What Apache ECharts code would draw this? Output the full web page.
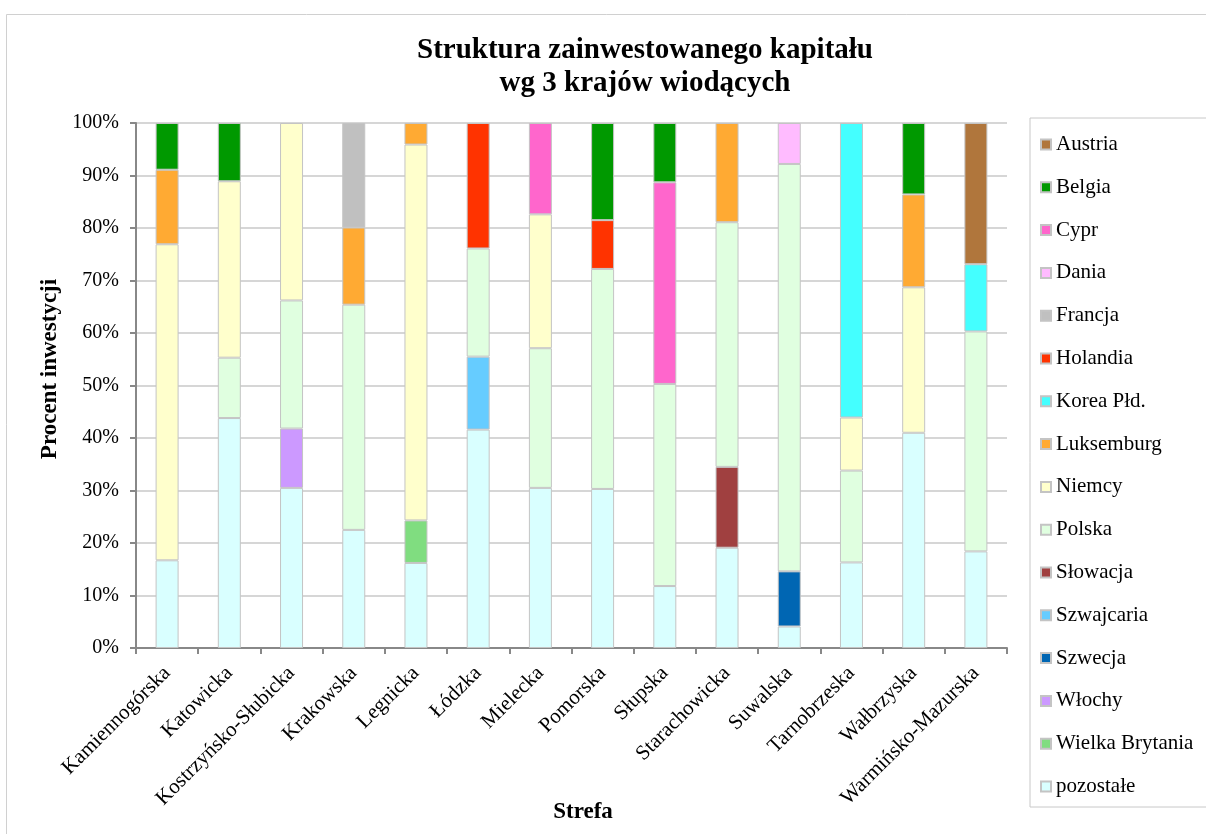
<!DOCTYPE html>
<html>
<head>
<meta charset="utf-8">
<script src="https://cdn.jsdelivr.net/npm/echarts@6/dist/echarts.min.js"></script>
<style>
  html, body { margin: 0; padding: 0; background: #fff; }
  #chart { width: 1206px; height: 834px; }
</style>
</head>
<body>
<div id="chart"></div>
<script>
// strefy
const strefy = ["Kamiennogórska", "Katowicka", "Kostrzyńsko-Słubicka", "Krakowska", "Legnicka", "Łódzka", "Mielecka",
  "Pomorska", "Słupska", "Starachowicka", "Suwalska", "Tarnobrzeska", "Wałbrzyska", "Warmińsko-Mazurska"];

// udział procentowy
const pozostale      = [16.7, 43.8, 30.5, 22.5, 16.2, 41.6, 30.5, 30.3, 11.8, 19.1, 4.1, 16.3, 41.0, 18.4];
const wielkaBrytania = ["-", "-", "-", "-", 8.1, "-", "-", "-", "-", "-", "-", "-", "-", "-"];
const wlochy         = ["-", "-", 11.3, "-", "-", "-", "-", "-", "-", "-", "-", "-", "-", "-"];
const szwecja        = ["-", "-", "-", "-", "-", "-", "-", "-", "-", "-", 10.5, "-", "-", "-"];
const szwajcaria     = ["-", "-", "-", "-", "-", 13.9, "-", "-", "-", "-", "-", "-", "-", "-"];
const slowacja       = ["-", "-", "-", "-", "-", "-", "-", "-", "-", 15.4, "-", "-", "-", "-"];
const polska         = ["-", 11.5, 24.4, 42.9, "-", 20.6, 26.6, 41.9, 38.5, 46.6, 77.6, 17.5, "-", 41.9];
const niemcy         = [60.2, 33.6, 33.8, "-", 71.6, "-", 25.5, "-", "-", "-", "-", 10.1, 27.7, "-"];
const luksemburg     = [14.2, "-", "-", 14.7, 4.1, "-", "-", "-", "-", 18.9, "-", "-", 17.7, "-"];
const koreaPld       = ["-", "-", "-", "-", "-", "-", "-", "-", "-", "-", "-", 56.1, "-", 12.8];
const holandia       = ["-", "-", "-", "-", "-", 23.9, "-", 9.3, "-", "-", "-", "-", "-", "-"];
const francja        = ["-", "-", "-", 19.9, "-", "-", "-", "-", "-", "-", "-", "-", "-", "-"];
const dania          = ["-", "-", "-", "-", "-", "-", "-", "-", "-", "-", 7.8, "-", "-", "-"];
const cypr           = ["-", "-", "-", "-", "-", "-", 17.4, "-", 38.4, "-", "-", "-", "-", "-"];
const belgia         = [8.9, 11.1, "-", "-", "-", "-", "-", 18.5, 11.3, "-", "-", "-", 13.6, "-"];
const austria        = ["-", "-", "-", "-", "-", "-", "-", "-", "-", "-", "-", "-", "-", 26.9];

const yTicks = [0, 10, 20, 30, 40, 50, 60, 70, 80, 90, 100];

// kolejność od dołu słupka
const kraje = [
  ["pozostałe", pozostale, "#D9FFFF"],
  ["Wielka Brytania", wielkaBrytania, "#80DD80"],
  ["Włochy", wlochy, "#CC99FF"],
  ["Szwecja", szwecja, "#0066B3"],
  ["Szwajcaria", szwajcaria, "#66CCFF"],
  ["Słowacja", slowacja, "#A04040"],
  ["Polska", polska, "#E0FFE0"],
  ["Niemcy", niemcy, "#FFFFCC"],
  ["Luksemburg", luksemburg, "#FFAA33"],
  ["Korea Płd.", koreaPld, "#44FFFF"],
  ["Holandia", holandia, "#FF3300"],
  ["Francja", francja, "#C0C0C0"],
  ["Dania", dania, "#FFBBFF"],
  ["Cypr", cypr, "#FF66CC"],
  ["Belgia", belgia, "#009900"],
  ["Austria", austria, "#B0763C"]
];

const font = "'Liberation Serif', 'Times New Roman', serif";

const myChart = echarts.init(document.getElementById("chart"));

const option = {
  animation: false,
  backgroundColor: "#fff",
  graphic: [
    {
      type: "rect",
      left: 4, top: 12,
      shape: { width: 1220, height: 840 },
      style: { fill: "none", stroke: "#d0d0d0", lineWidth: 1 }
    },
    {
      // tytuł osi Y (przesunięty nieco w górę jak w oryginale)
      type: "text",
      x: 50, y: 369,
      rotation: Math.PI / 2,
      style: {
        text: "Procent inwestycji",
        font: "bold 23px " + font,
        fill: "#000",
        textAlign: "center",
        textVerticalAlign: "middle"
      }
    },
    {
      // tytuł osi X
      type: "text",
      x: 583, y: 812,
      style: {
        text: "Strefa",
        font: "bold 23px " + font,
        fill: "#000",
        textAlign: "center",
        textVerticalAlign: "middle"
      }
    }
  ],
  title: {
    text: "Struktura zainwestowanego kapitału\nwg 3 krajów wiodących",
    left: 640, top: 29, textAlign: "center",
    textStyle: { fontFamily: font, fontSize: 29, fontWeight: "bold", color: "#000", lineHeight: 33 }
  },
  legend: {
    orient: "vertical",
    left: 1030, top: 118,
    padding: [16, 40, 10, 10],
    borderColor: "#c8c8c8", borderWidth: 1,
    itemWidth: 10, itemHeight: 10, itemGap: 21.8,
    icon: "rect",
    data: kraje.map(k => k[0]).reverse(),
    textStyle: { fontFamily: font, fontSize: 21, color: "#000", lineHeight: 21 }
  },
  grid: { left: 136, right: 199, top: 123, bottom: 186, containLabel: false, outerBoundsMode: "none" },
  xAxis: {
    type: "category",
    data: strefy,
    axisLine: { lineStyle: { color: "#888", width: 2 } },
    axisTick: { show: true, length: 6, lineStyle: { color: "#888", width: 2 } },
    axisLabel: { rotate: 45, margin: 22, fontFamily: font, fontSize: 21, color: "#000", interval: 0 }
  },
  yAxis: {
    type: "value",
    min: 0, max: 100, interval: 10,
    axisLine: { show: true, lineStyle: { color: "#888", width: 2 } },
    axisTick: { show: true, length: 6, lineStyle: { color: "#888", width: 2 } },
    splitLine: { lineStyle: { color: "#c8c8c8", width: 1.5 } },
    axisLabel: {
      fontFamily: font, fontSize: 20, color: "#000", margin: 17,
      formatter: v => (yTicks.includes(v) ? v + "%" : "")
    }
  },
  series: kraje.map(([name, values, color]) => ({
    name: name,
    type: "bar",
    stack: "suma",
    barWidth: 23,
    data: values,
    itemStyle: { color: color, borderColor: "#c4c4c4", borderWidth: 1 }
  }))
};

myChart.setOption(option);
</script>
</body>
</html>
